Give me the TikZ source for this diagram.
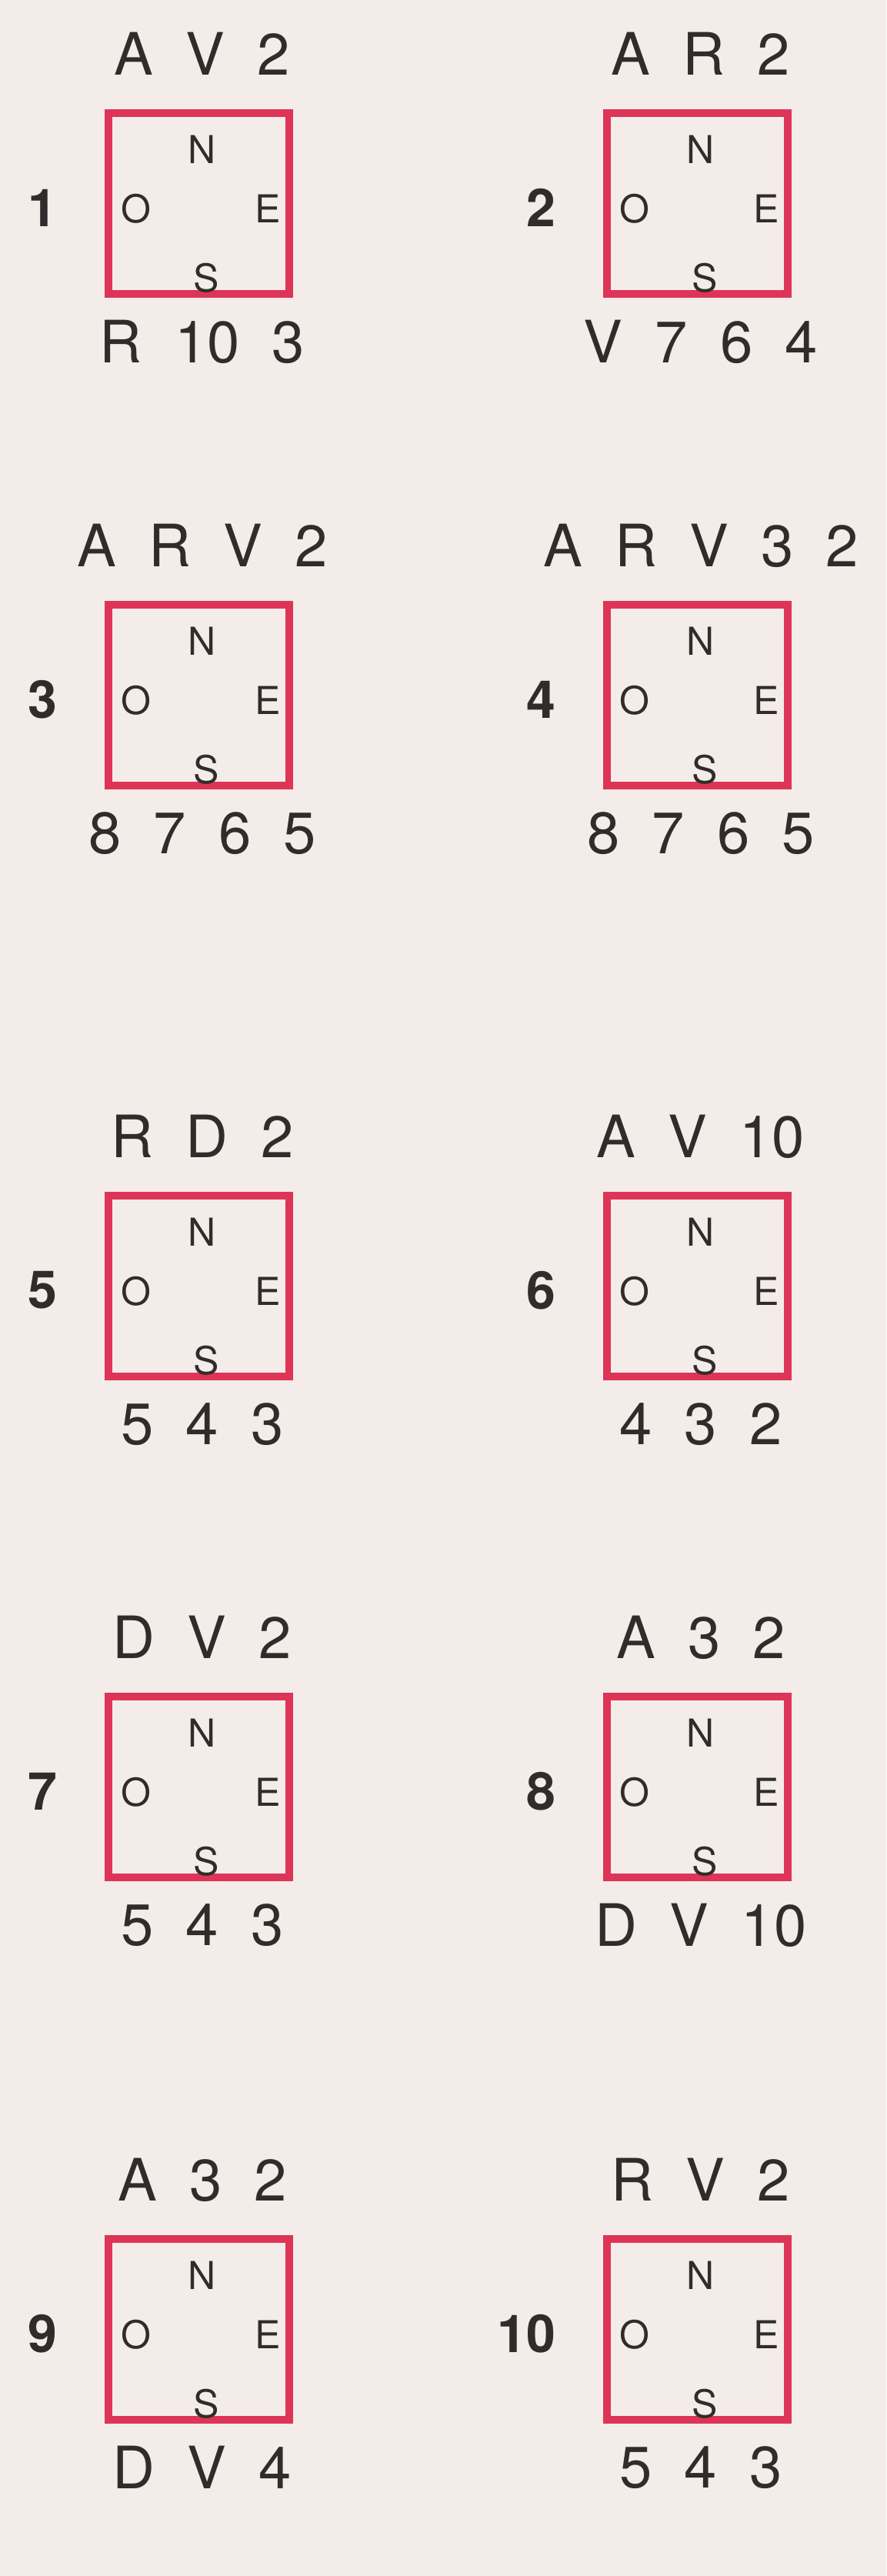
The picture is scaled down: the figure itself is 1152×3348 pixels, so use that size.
\documentclass[tikz,border=0pt]{standalone}
\usepackage{fontspec}
\setmainfont{TeX Gyre Heros}[WordSpace=2]
\usetikzlibrary{positioning}
\definecolor{Paper}{RGB}{243,236,232}
\definecolor{Ink}{RGB}{48,44,44}
\definecolor{Frame}{RGB}{222,52,88}

\tikzset{
  dialbox/.style={draw=Frame, line width=5pt, minimum width=117.5pt, minimum height=117.5pt, inner sep=0pt},
  handtext/.style={text=Ink, font=\fontsize{38}{42}\selectfont, inner sep=0pt},
  dirletter/.style={text=Ink, font=\fontsize{25}{29}\selectfont, inner sep=0pt},
  panelno/.style={text=Ink, font=\bfseries\fontsize{34}{38}\selectfont, inner sep=0pt, anchor=east},
}

\begin{document}
\begin{tikzpicture}[x=0.5pt, y=-0.5pt]
  \fill[Paper] (0,0) rectangle (1152,3348);
  % panel / box centre / cards above / cards below
  \foreach \n/\bx/\by/\top/\bot in {
      1/258/264/A V 2/R 10 3,
      2/906/264/A R 2/V 7 6 4,
      3/258/903/A R V 2/8 7 6 5,
      4/906/903/A R V 3 2/8 7 6 5,
      5/258/1671/R D 2/5 4 3,
      6/906/1671/A V 10/4 3 2,
      7/258/2322/D V 2/5 4 3,
      8/906/2322/A 3 2/D V 10,
      9/258/3027/A 3 2/D V 4,
      10/906/3027/R V 2/5 4 3}
  {
    \node[dialbox] (b\n) at (\bx,\by) {};
    \node[handtext] (t\n) at ([shift={(5,-194)}]b\n.center) {\top};
    \node[handtext] (u\n) at ([shift={(5,180)}]b\n.center) {\bot};
    \node[panelno] (k\n) at ([shift={(-183,6)}]b\n.center) {\n};
    \node[dirletter] (N\n) at ([shift={(5,-70)}]b\n.center) {N};
    \node[dirletter] (O\n) at ([shift={(-81,7)}]b\n.center) {O};
    \node[dirletter] (E\n) at ([shift={(90,7)}]b\n.center) {E};
    \node[dirletter] (S\n) at ([shift={(10,97)}]b\n.center) {S};
  }
\end{tikzpicture}
\end{document}
